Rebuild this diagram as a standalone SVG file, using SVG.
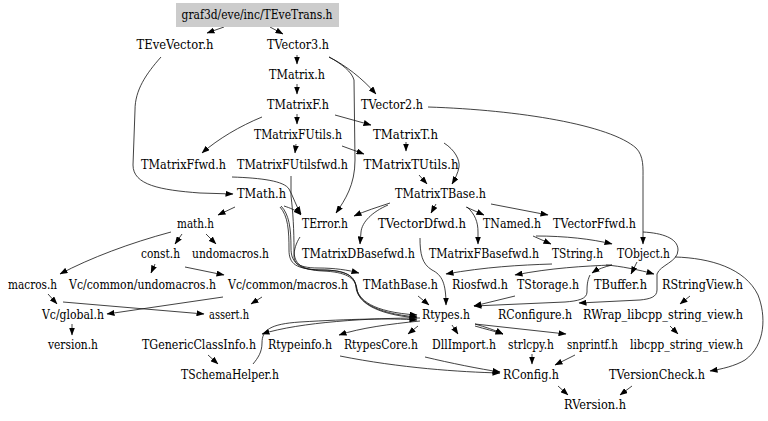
<svg xmlns="http://www.w3.org/2000/svg" width="768" height="421" viewBox="0 0 768 421">
<style>
.e path{fill:none;stroke:#111;stroke-width:0.8;marker-end:url(#ah)}
</style>
<defs>
<marker id="ah" markerWidth="8" markerHeight="6" refX="7.5" refY="3" orient="auto" markerUnits="userSpaceOnUse"><path d="M0,0 L8,3 L0,6 z" fill="#000"/></marker>
</defs>
<rect width="768" height="421" fill="#fff"/>
<g class="e" id="edges">
<path d="M224,27 L207,33"/>
<path d="M270,27 L283,34"/>
<path d="M161,57 C146,74 135,90 135,110 L133,165 C133,185 160,190 200,193 L233,194"/>
<path d="M297,55 L297,64"/>
<path d="M329,57 C345,65 362,78 376,94"/>
<path d="M329,57 C342,64 352,72 354,80 L355,160 C355,185 345,200 336,213"/>
<path d="M297,84 L297,94"/>
<path d="M297,114 L297,124"/>
<path d="M262,117 C240,126 218,139 202,153"/>
<path d="M335,115 L371,125"/>
<path d="M296,144 L295,153"/>
<path d="M342,146 L364,154"/>
<path d="M406,142 L406,151"/>
<path d="M444,143 C455,150 460,160 459,167 C458,173 455,179 452,184"/>
<path d="M419,175 L427,184"/>
<path d="M428,107 C520,110 610,125 636,148 C644,156 643,168 643,180 L643,244"/>
<path d="M390,203 C378,207 365,211 354,216"/>
<path d="M388,205 C372,212 362,222 361,232 L360,244"/>
<path d="M436,204 L431,213"/>
<path d="M466,207 L484,215"/>
<path d="M467,207 C475,214 478,222 478,232 L478,244"/>
<path d="M491,204 L548,215"/>
<path d="M235,207 L218,215"/>
<path d="M284,206 C290,208 296,210 301,215"/>
<path d="M281,206 C289,214 291,228 291,248 C291,262 297,268 318,268 C335,268 348,270 359,273"/>
<path d="M280,207 C288,216 289,230 289,250 C289,264 296,269 320,270 C342,270 354,274 356,286 C358,300 372,312 417,315"/>
<path d="M232,177 C262,178 284,181 289,189 C293,196 296,206 301,214"/>
<path d="M291,176 L291,196 C293,212 294,230 294,250 C294,264 301,270 323,271 C345,272 355,277 357,289 C358,301 373,314 417,318"/>
<path d="M300,237 C296,243 294,250 294,256 C294,265 301,270 322,270 C344,270 355,275 356,287 C357,300 372,313 417,317"/>
<path d="M253,364 C258,358 262,352 262,343 C262,330 270,324 300,322 C350,319 390,318 417,320"/>
<path d="M420,318 C370,318 300,322 262,334"/>
<path d="M420,321 C390,324 360,328 339,335"/>
<path d="M208,355 L218,364"/>
<path d="M171,232 C130,243 90,258 60,274"/>
<path d="M182,234 L175,244"/>
<path d="M206,234 L216,244"/>
<path d="M155,264 L151,273"/>
<path d="M185,267 L224,275"/>
<path d="M48,294 L57,304"/>
<path d="M63,302 L204,314"/>
<path d="M223,297 L107,314"/>
<path d="M262,297 L251,304"/>
<path d="M72,324 L72,335"/>
<path d="M533,236 L551,244"/>
<path d="M536,236 C565,236 592,239 612,244"/>
<path d="M420,238 C420,254 422,264 432,270 C442,275 446,283 446,305"/>
<path d="M552,264 C520,265 485,267 446,274"/>
<path d="M612,265 C585,266 550,268 515,275"/>
<path d="M606,265 C620,266 640,270 654,274"/>
<path d="M637,262 L631,274"/>
<path d="M612,265 C604,267 598,269 592,273"/>
<path d="M590,275 C587,281 587,287 587,292 C587,299 578,301 565,302 L474,306"/>
<path d="M643,232 C662,233 678,238 678,250 C678,262 660,265 657,274 L657,290 C657,297 650,299 640,300 L579,303"/>
<path d="M515,296 L474,306"/>
<path d="M675,257 C710,258 745,268 758,295 C766,315 766,345 745,360 C735,366 722,369 710,371"/>
<path d="M418,296 L429,305"/>
<path d="M418,326 L408,334"/>
<path d="M452,325 L458,334"/>
<path d="M475,324 C485,327 495,330 503,334"/>
<path d="M475,326 C485,329 494,331 503,334"/>
<path d="M475,324 L566,334"/>
<path d="M425,357 C450,363 480,369 500,372"/>
<path d="M340,356 C400,368 460,372 500,373"/>
<path d="M532,354 L532,364"/>
<path d="M575,355 L555,365"/>
<path d="M558,386 L568,395"/>
<path d="M632,386 L620,395"/>
<path d="M690,296 L680,304"/>
<path d="M670,326 L678,334"/>
</g>
<g id="nodes" font-family="'DejaVu Serif', serif" font-size="12.5" text-anchor="middle" fill="#000">
<g id="n_root"><rect x="176" y="3" width="163" height="24" fill="#cccccc"/><text x="257" y="18.5" textLength="151" lengthAdjust="spacingAndGlyphs">graf3d/eve/inc/TEveTrans.h</text></g>
<g id="n_TEveVector"><text x="175" y="48.5" textLength="77" lengthAdjust="spacingAndGlyphs">TEveVector.h</text></g>
<g id="n_TVector3"><text x="298" y="48.5" textLength="62" lengthAdjust="spacingAndGlyphs">TVector3.h</text></g>
<g id="n_TMatrix"><text x="297" y="78.5" textLength="56" lengthAdjust="spacingAndGlyphs">TMatrix.h</text></g>
<g id="n_TMatrixF"><text x="298" y="108.5" textLength="62" lengthAdjust="spacingAndGlyphs">TMatrixF.h</text></g>
<g id="n_TVector2"><text x="392" y="108.5" textLength="62" lengthAdjust="spacingAndGlyphs">TVector2.h</text></g>
<g id="n_TMatrixFUtils"><text x="298" y="138.5" textLength="88" lengthAdjust="spacingAndGlyphs">TMatrixFUtils.h</text></g>
<g id="n_TMatrixT"><text x="405.5" y="138.5" textLength="65" lengthAdjust="spacingAndGlyphs">TMatrixT.h</text></g>
<g id="n_TMatrixFfwd"><text x="183.5" y="168.5" textLength="85" lengthAdjust="spacingAndGlyphs">TMatrixFfwd.h</text></g>
<g id="n_TMatrixFUtilsfwd"><text x="292.5" y="168.5" textLength="111" lengthAdjust="spacingAndGlyphs">TMatrixFUtilsfwd.h</text></g>
<g id="n_TMatrixTUtils"><text x="411" y="168.5" textLength="95" lengthAdjust="spacingAndGlyphs">TMatrixTUtils.h</text></g>
<g id="n_TMath"><text x="261.5" y="198" textLength="49" lengthAdjust="spacingAndGlyphs">TMath.h</text></g>
<g id="n_TMatrixTBase"><text x="440.5" y="198" textLength="91" lengthAdjust="spacingAndGlyphs">TMatrixTBase.h</text></g>
<g id="n_math"><text x="195.5" y="228" textLength="37" lengthAdjust="spacingAndGlyphs">math.h</text></g>
<g id="n_TError"><text x="325" y="228" textLength="46" lengthAdjust="spacingAndGlyphs">TError.h</text></g>
<g id="n_TVectorDfwd"><text x="422" y="228" textLength="88" lengthAdjust="spacingAndGlyphs">TVectorDfwd.h</text></g>
<g id="n_TNamed"><text x="512" y="228" textLength="58" lengthAdjust="spacingAndGlyphs">TNamed.h</text></g>
<g id="n_TVectorFfwd"><text x="594.5" y="228" textLength="83" lengthAdjust="spacingAndGlyphs">TVectorFfwd.h</text></g>
<g id="n_const"><text x="160.5" y="258" textLength="39" lengthAdjust="spacingAndGlyphs">const.h</text></g>
<g id="n_undomacros"><text x="230.5" y="258" textLength="77" lengthAdjust="spacingAndGlyphs">undomacros.h</text></g>
<g id="n_TMatrixDBasefwd"><text x="358.5" y="258" textLength="113" lengthAdjust="spacingAndGlyphs">TMatrixDBasefwd.h</text></g>
<g id="n_TMatrixFBasefwd"><text x="484" y="258" textLength="110" lengthAdjust="spacingAndGlyphs">TMatrixFBasefwd.h</text></g>
<g id="n_TString"><text x="577.5" y="258" textLength="51" lengthAdjust="spacingAndGlyphs">TString.h</text></g>
<g id="n_TObject"><text x="643.5" y="258" textLength="53" lengthAdjust="spacingAndGlyphs">TObject.h</text></g>
<g id="n_macros"><text x="32.5" y="288.5" textLength="49" lengthAdjust="spacingAndGlyphs">macros.h</text></g>
<g id="n_VcUndomacros"><text x="142.5" y="288.5" textLength="147" lengthAdjust="spacingAndGlyphs">Vc/common/undomacros.h</text></g>
<g id="n_VcMacros"><text x="288" y="288.5" textLength="120" lengthAdjust="spacingAndGlyphs">Vc/common/macros.h</text></g>
<g id="n_TMathBase"><text x="400.5" y="288.5" textLength="75" lengthAdjust="spacingAndGlyphs">TMathBase.h</text></g>
<g id="n_Riosfwd"><text x="480" y="288.5" textLength="56" lengthAdjust="spacingAndGlyphs">Riosfwd.h</text></g>
<g id="n_TStorage"><text x="548" y="288.5" textLength="62" lengthAdjust="spacingAndGlyphs">TStorage.h</text></g>
<g id="n_TBuffer"><text x="620.5" y="288.5" textLength="53" lengthAdjust="spacingAndGlyphs">TBuffer.h</text></g>
<g id="n_RStringView"><text x="702.5" y="288.5" textLength="81" lengthAdjust="spacingAndGlyphs">RStringView.h</text></g>
<g id="n_VcGlobal"><text x="73" y="318.5" textLength="62" lengthAdjust="spacingAndGlyphs">Vc/global.h</text></g>
<g id="n_assert"><text x="229" y="318.5" textLength="40" lengthAdjust="spacingAndGlyphs">assert.h</text></g>
<g id="n_Rtypes"><text x="446" y="318.5" textLength="48" lengthAdjust="spacingAndGlyphs">Rtypes.h</text></g>
<g id="n_RConfigure"><text x="535" y="318.5" textLength="74" lengthAdjust="spacingAndGlyphs">RConfigure.h</text></g>
<g id="n_RWrap"><text x="663" y="318.5" textLength="160" lengthAdjust="spacingAndGlyphs">RWrap_libcpp_string_view.h</text></g>
<g id="n_version"><text x="73" y="348.5" textLength="50" lengthAdjust="spacingAndGlyphs">version.h</text></g>
<g id="n_TGenericClassInfo"><text x="199" y="348.5" textLength="114" lengthAdjust="spacingAndGlyphs">TGenericClassInfo.h</text></g>
<g id="n_Rtypeinfo"><text x="300" y="348.5" textLength="64" lengthAdjust="spacingAndGlyphs">Rtypeinfo.h</text></g>
<g id="n_RtypesCore"><text x="381" y="348.5" textLength="74" lengthAdjust="spacingAndGlyphs">RtypesCore.h</text></g>
<g id="n_DllImport"><text x="464" y="348.5" textLength="64" lengthAdjust="spacingAndGlyphs">DllImport.h</text></g>
<g id="n_strlcpy"><text x="531" y="348.5" textLength="46" lengthAdjust="spacingAndGlyphs">strlcpy.h</text></g>
<g id="n_snprintf"><text x="592.5" y="348.5" textLength="51" lengthAdjust="spacingAndGlyphs">snprintf.h</text></g>
<g id="n_libcpp"><text x="686.5" y="348.5" textLength="113" lengthAdjust="spacingAndGlyphs">libcpp_string_view.h</text></g>
<g id="n_TSchemaHelper"><text x="230" y="378.5" textLength="98" lengthAdjust="spacingAndGlyphs">TSchemaHelper.h</text></g>
<g id="n_RConfig"><text x="531" y="378.5" textLength="56" lengthAdjust="spacingAndGlyphs">RConfig.h</text></g>
<g id="n_TVersionCheck"><text x="657" y="378.5" textLength="96" lengthAdjust="spacingAndGlyphs">TVersionCheck.h</text></g>
<g id="n_RVersion"><text x="595" y="408.5" textLength="62" lengthAdjust="spacingAndGlyphs">RVersion.h</text></g>
</g>
</svg>
